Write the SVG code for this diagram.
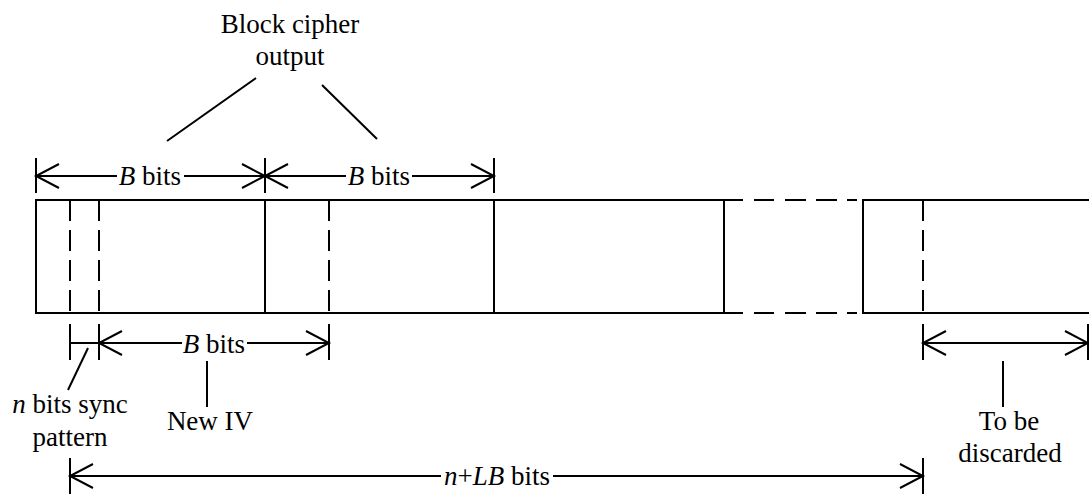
<svg xmlns="http://www.w3.org/2000/svg" width="1089" height="494" viewBox="0 0 1089 494">
  <style>
    .ln { stroke: #000; stroke-width: 2; fill: none; }
    .dash { stroke: #000; stroke-width: 2; fill: none; stroke-dasharray: 21 9; }
    .dim { stroke: #000; stroke-width: 2; fill: none; }
    .arrS { marker-start: url(#open); }
    .arrE { marker-end: url(#open); }
    text { font-family: "Liberation Serif", "Times New Roman", serif; font-size: 27px; fill: #000; text-anchor: middle; }
    .it { font-style: italic; }
  </style>
  <defs>
    <marker id="open" viewBox="0 0 26 26" refX="24" refY="13" markerWidth="26" markerHeight="26" markerUnits="userSpaceOnUse" orient="auto-start-reverse" overflow="visible">
      <path d="M1,1 L24,13 L1,25" stroke="#000" stroke-width="2" fill="none"/>
    </marker>
  </defs>

  <!-- bit stream frame -->
  <g id="stream">
    <path class="ln" d="M743,200 H36 V313 H743"/>
    <path class="ln" d="M754,200 H774 M785,200 H806 M816,200 H837 M847,200 H857"/>
    <path class="ln" d="M754,313 H774 M785,313 H806 M816,313 H837 M847,313 H857"/>
    <path class="ln" d="M1089,200 H863 V313 H1089"/>
    <path class="ln" d="M265,200 V313 M494,200 V313 M724,200 V313"/>
    <path class="dash" d="M70,200 V313 M99,200 V313 M329,200 V313 M923,200 V313"/>
  </g>

  <!-- dimension arrows and leader lines -->
  <g id="connectors">
    <!-- top B-bit blocks -->
    <path class="ln" d="M36,158 V193 M265,158 V193 M494,158 V193"/>
    <line class="dim arrS" x1="36" y1="176" x2="117" y2="176"/>
    <line class="dim arrE" x1="184" y1="176" x2="265" y2="176"/>
    <line class="dim arrS" x1="265" y1="176" x2="346" y2="176"/>
    <line class="dim arrE" x1="412" y1="176" x2="494" y2="176"/>
    <!-- lower B bits / sync -->
    <path class="ln" d="M70,324 V360 M99,324 V360 M329,324 V360 M70,343 H99"/>
    <line class="dim arrS" x1="99" y1="343" x2="182" y2="343"/>
    <line class="dim arrE" x1="247" y1="343" x2="329" y2="343"/>
    <!-- discarded part -->
    <path class="ln" d="M923,324 V360 M1088,324 V360"/>
    <line class="dim arrS arrE" x1="923" y1="343" x2="1088" y2="343"/>
    <!-- n+LB bits -->
    <path class="ln" d="M70,458 V494 M923,458 V494"/>
    <line class="dim arrS" x1="70" y1="476" x2="441" y2="476"/>
    <line class="dim arrE" x1="553" y1="476" x2="923" y2="476"/>
    <!-- leaders -->
    <path class="ln" d="M256,78 L167,141 M322,85 L377,139"/>
    <path class="ln" d="M88,348 L68,390"/>
    <path class="ln" d="M207,361 V407"/>
    <path class="ln" d="M1003,361 V407"/>
  </g>

  <g id="label-block-cipher">
    <text x="290" y="33">Block cipher</text>
    <text x="290" y="65">output</text>
  </g>
  <g id="label-top-b1"><text x="150" y="185"><tspan class="it">B</tspan> bits</text></g>
  <g id="label-top-b2"><text x="379" y="185"><tspan class="it">B</tspan> bits</text></g>
  <g id="label-low-b"><text x="214" y="353"><tspan class="it">B</tspan> bits</text></g>
  <g id="label-sync">
    <text x="70" y="413"><tspan class="it">n</tspan> bits sync</text>
    <text x="70" y="446">pattern</text>
  </g>
  <g id="label-new-iv"><text x="210" y="430">New IV</text></g>
  <g id="label-discard">
    <text x="1009" y="430">To be</text>
    <text x="1010" y="462">discarded</text>
  </g>
  <g id="label-total"><text x="497" y="485"><tspan class="it">n</tspan>+<tspan class="it">LB</tspan> bits</text></g>
</svg>
